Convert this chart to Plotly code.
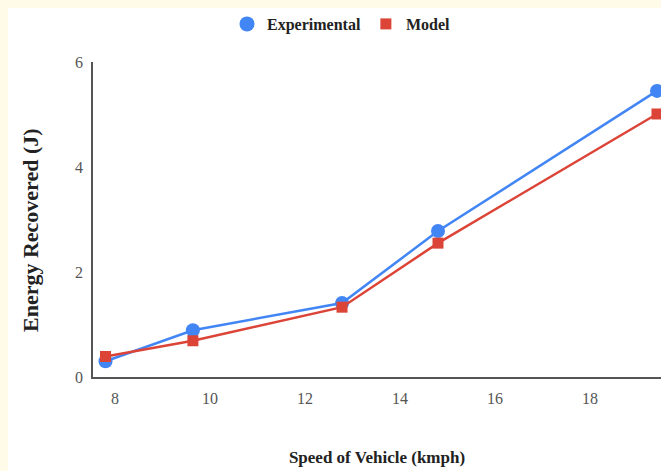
import plotly.graph_objects as go

speed = [7.8, 9.64, 12.78, 14.8, 19.41]
experimental = [0.30, 0.89, 1.41, 2.78, 5.45]
model = [0.39, 0.69, 1.33, 2.55, 5.01]
x_ticks = [8, 10, 12, 14, 16, 18]
y_ticks = [0, 2, 4, 6]

BLUE = "#4285F4"
RED = "#DB4437"
SERIF = "Liberation Serif, Times New Roman, serif"

# plot area geometry (pixels)
L, R, T, B = 93, 661, 62, 377
PW, PH = R - L, B - T

fig = go.Figure()
fig.add_trace(go.Scatter(
    x=speed, y=experimental, name="Experimental", mode="lines+markers",
    line=dict(color=BLUE, width=2.5),
    marker=dict(symbol="circle", size=14, color=BLUE),
    showlegend=False, legendgroup="exp",
))
fig.add_trace(go.Scatter(
    x=speed, y=model, name="Model", mode="lines+markers",
    line=dict(color=RED, width=2.5),
    marker=dict(symbol="square", size=11, color=RED),
    showlegend=False, legendgroup="mod",
))
# legend entries showing markers only
fig.add_trace(go.Scatter(
    x=[None], y=[None], name="Experimental", mode="markers",
    marker=dict(symbol="circle", size=15, color=BLUE), legendgroup="exp",
))
fig.add_trace(go.Scatter(
    x=[None], y=[None], name="Model", mode="markers",
    marker=dict(symbol="square", size=11, color=RED), legendgroup="mod",
))

# white page area over cream background (cream strip on left and top)
fig.add_shape(type="rect", xref="paper", yref="paper",
              x0=(8 - L) / PW, x1=1.1, y0=-0.4, y1=(B - 8) / PH,
              fillcolor="white", line=dict(width=0), layer="below")

fig.add_annotation(
    text="Energy Recovered (J)", textangle=-90,
    xref="paper", yref="paper", x=(30 - L) / PW, y=(B - 230) / PH,
    xanchor="center", yanchor="middle", showarrow=False,
    font=dict(family=SERIF, size=22, color="#222", weight="bold"),
)

fig.update_layout(
    width=661, height=471,
    margin=dict(l=L, r=0, t=T, b=471 - B),
    paper_bgcolor="#FFFBE8",
    plot_bgcolor="white",
    font=dict(family=SERIF, color="#222"),
    showlegend=True,
    legend=dict(orientation="h", x=(341 - L) / PW, xanchor="center",
                y=(B - 24) / PH, yanchor="middle",
                font=dict(family=SERIF, size=16, color="#222", weight="bold"),
                bgcolor="rgba(0,0,0,0)", itemwidth=30),
    xaxis=dict(
        range=[8 - 22 / 47.5, 8 + 546 / 47.5],
        tickvals=x_ticks, ticktext=[str(v) for v in x_ticks],
        showgrid=False, zeroline=False,
        showline=True, linecolor="#555", linewidth=1.5,
        ticks="outside", ticklen=6, tickcolor="rgba(0,0,0,0)",
        tickfont=dict(family=SERIF, size=16, color="#555"),
        title=dict(text="Speed of Vehicle (kmph)", standoff=45,
                   font=dict(family=SERIF, size=17, color="#222", weight="bold")),
        automargin=False,
    ),
    yaxis=dict(
        range=[0, 6],
        tickvals=y_ticks, ticktext=[str(v) for v in y_ticks],
        showgrid=False, zeroline=False,
        showline=True, linecolor="#555", linewidth=1.5,
        ticks="outside", ticklen=5, tickcolor="rgba(0,0,0,0)",
        tickfont=dict(family=SERIF, size=16, color="#555"),
        automargin=False,
    ),
)

fig.write_html("out.html", config={"displayModeBar": False},
               post_script="document.body.style.margin='0';")
